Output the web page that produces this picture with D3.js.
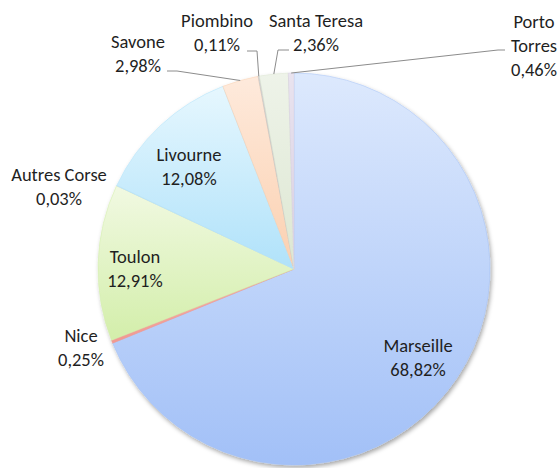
<!DOCTYPE html>
<html>
<head>
<meta charset="utf-8">
<script src="https://cdn.jsdelivr.net/npm/d3@7"></script>
<style>
  html, body { margin: 0; padding: 0; background: #fff; }
  #chart text { font-family: Carlito, Calibri, Lato, sans-serif; fill: #1f1f1f; }
</style>
</head>
<body>
<div id="chart"></div>
<script>
// ports and their share of traffic (%)
const ports = ["Marseille", "Nice", "Toulon", "Autres Corse", "Livourne", "Savone", "Piombino", "Santa Teresa", "Porto Torres"];
const shares = [68.82, 0.25, 12.91, 0.03, 12.08, 2.98, 0.11, 2.36, 0.46];

// gradient colors [top, bottom] per slice
const colors = [
  ["#dde9fd", "#a2c0f7"],
  ["#f7b3ae", "#f09891"],
  ["#f1f9e2", "#d3eeaa"],
  ["#dcecf8", "#c6def2"],
  ["#e6f7fe", "#b0e2fa"],
  ["#feeadc", "#fbd0b0"],
  ["#d6d6d6", "#c4c4c4"],
  ["#eef3e9", "#dde7d2"],
  ["#e9e3ef", "#d9d0e2"]
];

// label layout: x center, first baseline, optional leader [labelEnd, elbow]
const labelPos = {
  "Marseille": { x: 418, y: 352 },
  "Nice": { x: 81, y: 342 },
  "Toulon": { x: 135, y: 263 },
  "Autres Corse": { x: 59, y: 181 },
  "Livourne": { x: 189, y: 161 },
  "Savone": { x: 138, y: 48, leader: [[167, 71], [177, 71]] },
  "Piombino": { x: 217, y: 27, leader: [[247, 51], [257, 51]] },
  "Santa Teresa": { x: 316, y: 27, leader: [[289, 50], [278, 50]] },
  "Porto Torres": { x: 534, y: 28, wrap: true, leader: [[505, 50], [498, 50]] }
};

const width = 560, height = 468;
const cx = 294, cy = 269, radius = 196;
const lineH = 24;

const svg = d3.select("#chart").append("svg")
  .attr("width", width)
  .attr("height", height);

const defs = svg.append("defs");

const shadow = defs.append("filter")
  .attr("id", "shadow")
  .attr("x", "-10%").attr("y", "-10%")
  .attr("width", "120%").attr("height", "120%");
shadow.append("feDropShadow")
  .attr("dx", 1.5).attr("dy", 2.5)
  .attr("stdDeviation", 2.2)
  .attr("flood-color", "#000")
  .attr("flood-opacity", 0.35);

colors.forEach((c, i) => {
  const g = defs.append("linearGradient")
    .attr("id", "grad" + i)
    .attr("x1", 0).attr("y1", 0).attr("x2", 0).attr("y2", 1);
  g.append("stop").attr("offset", "0%").attr("stop-color", c[0]);
  g.append("stop").attr("offset", "100%").attr("stop-color", c[1]);
});

const data = ports.map((p, i) => ({ name: p, value: shares[i], idx: i }));

const pie = d3.pie().sort(null).value(d => d.value);
const arcs = pie(data);

const arc = d3.arc().innerRadius(0).outerRadius(radius);
const edge = d3.arc().innerRadius(radius).outerRadius(radius);

const g = svg.append("g").attr("transform", `translate(${cx},${cy})`);

g.append("g")
  .attr("filter", "url(#shadow)")
  .selectAll("path")
  .data(arcs)
  .enter()
  .append("path")
  .attr("d", arc)
  .attr("fill", d => `url(#grad${d.data.idx})`)
  .attr("stroke", d => colors[d.data.idx][1])
  .attr("stroke-width", 0.5);

// leader lines
const line = d3.line();
arcs.forEach(d => {
  const pos = labelPos[d.data.name];
  if (!pos.leader) return;
  const e = edge.centroid(d);
  const pts = [pos.leader[0], pos.leader[1], [cx + e[0], cy + e[1]]];
  svg.append("path")
    .attr("d", line(pts))
    .attr("fill", "none")
    .attr("stroke", "#8c8c8c")
    .attr("stroke-width", 1);
});

// labels
const fmt = v => v.toFixed(2).replace(".", ",") + "%";
arcs.forEach(d => {
  const pos = labelPos[d.data.name];
  const lines = pos.wrap ? d.data.name.split(" ") : [d.data.name];
  lines.push(fmt(d.data.value));
  const t = svg.append("text")
    .attr("text-anchor", "middle")
    .attr("font-size", 18.5);
  lines.forEach((l, i) => {
    t.append("tspan").attr("x", pos.x).attr("y", pos.y + i * lineH).text(l);
  });
});
</script>
</body>
</html>
